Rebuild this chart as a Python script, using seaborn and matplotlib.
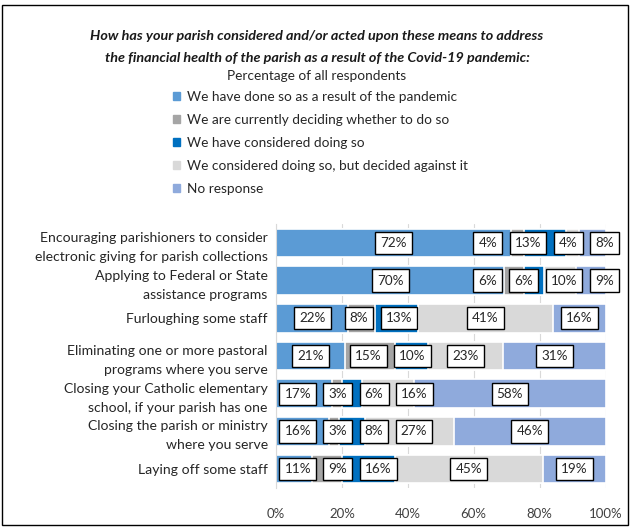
import numpy as np
import pandas as pd
import matplotlib
matplotlib.use('Agg')
import matplotlib.pyplot as plt
import matplotlib.patches as mpatches
import seaborn as sns

categories = [
    "Encouraging parishioners to consider\nelectronic giving for parish collections",
    "Applying to Federal or State\nassistance programs",
    "Furloughing some staff",
    "Eliminating one or more pastoral\nprograms where you serve",
    "Closing your Catholic elementary\nschool, if your parish has one",
    "Closing the parish or ministry\nwhere you serve",
    "Laying off some staff",
]
series_names = [
    "We have done so as a result of the pandemic",
    "We are currently deciding whether to do so",
    "We have considered doing so",
    "We considered doing so, but decided against it",
    "No response",
]
done       = [72, 70, 22, 21, 17, 16, 11]
deciding   = [4, 6, 8, 15, 3, 3, 9]
considered = [13, 6, 13, 10, 6, 8, 16]
against    = [4, 10, 41, 23, 16, 27, 45]
no_resp    = [8, 9, 16, 31, 58, 46, 19]
x_ticks    = [0, 20, 40, 60, 80, 100]

colors = ["#5B9BD5", "#A5A5A5", "#0070C0", "#D9D9D9", "#8FAADC"]
FONT = ["Lato", "DejaVu Sans"]

sns.set_theme(style="white")
plt.rcParams['font.family'] = FONT

vals = np.array([done, deciding, considered, against, no_resp], dtype=float)
# 100% stacked: shares of each row
shares = vals / vals.sum(axis=0) * 100
cum = np.cumsum(shares, axis=0)

W, H = 634, 530
fig = plt.figure(figsize=(W / 100, H / 100), dpi=100)
ax = fig.add_axes([276 / W, 1 - 488 / H, (605.5 - 276) / W, (488 - 224) / H])

# draw cumulative bars back to front so each series shows as a segment
for k in reversed(range(len(series_names))):
    df = pd.DataFrame({"cat": categories, "val": cum[k]})
    sns.barplot(data=df, x="val", y="cat", orient="h", color=colors[k],
                saturation=1, width=0.76, edgecolor="white", linewidth=1.2, ax=ax)

ax.set_xlim(0, 100)
ax.set_xticks(x_ticks)
ax.set_xticklabels([f"{t}%" for t in x_ticks])
ax.set_xlabel("")
ax.set_ylabel("")
ax.grid(axis="x", color="#D9D9D9", linewidth=0.8)
ax.grid(axis="y", visible=False)
ax.set_axisbelow(True)
for s in ["top", "right", "bottom"]:
    ax.spines[s].set_visible(False)
ax.spines["left"].set_color("#D9D9D9")
ax.spines["left"].set_linewidth(0.8)

ax.tick_params(axis="x", length=4.5, color="#D9D9D9", width=0.8, labelsize=9.5,
               labelcolor="#404040", pad=10)
ax.tick_params(axis="y", which="major", length=0, labelsize=10.1,
               labelcolor="#262626", pad=6)
ax.set_yticks([i + 0.5 for i in range(len(categories))], minor=True)
ax.tick_params(axis="y", which="minor", length=184, color="#D9D9D9", width=0.8)
for lbl in ax.get_yticklabels():
    lbl.set_linespacing(1.7)

# value labels in white boxes
texts = []
for i in range(len(categories)):
    row = []
    for k in range(len(series_names)):
        c = cum[k, i] - shares[k, i] / 2
        t = ax.text(c, i, f"{int(vals[k, i])}%", ha="center", va="center",
                    fontsize=9.7, color="#262626",
                    bbox=dict(boxstyle="square,pad=0.38", fc="white",
                              ec="black", lw=1))
        row.append(t)
    texts.append(row)

fig.canvas.draw()
r = fig.canvas.get_renderer()
inv = ax.transData.inverted()


def spread(cs, ws, gap=2.2, lo=1.0, hi=104.0):
    xs = list(cs)
    for _ in range(300):
        moved = False
        for j in range(len(xs) - 1):
            need = (ws[j] + ws[j + 1]) / 2 + gap
            d = xs[j + 1] - xs[j]
            if d < need - 1e-6:
                sh = (need - d) / 2
                xs[j] -= sh
                xs[j + 1] += sh
                moved = True
        xs[0] = max(xs[0], lo + ws[0] / 2)
        xs[-1] = min(xs[-1], hi - ws[-1] / 2)
        if not moved:
            break
    return xs


for i, row in enumerate(texts):
    ws = []
    for t in row:
        bb = t.get_bbox_patch().get_window_extent(r)
        (x0, _), (x1, _) = inv.transform([[bb.x0, 0], [bb.x1, 0]])
        ws.append(x1 - x0)
    cs = [t.get_position()[0] for t in row]
    new = spread(cs, ws)
    for t, x in zip(row, new):
        t.set_x(x)

# title and legend
fig.text(0.5, 1 - 36 / H, "How has your parish considered and/or acted upon these means to address",
         ha="center", va="center", fontsize=10.4, fontweight="bold", style="italic", color="#1a1a1a")
fig.text(0.5, 1 - 58 / H, "the financial health of the parish as a result of the Covid-19 pandemic:",
         ha="center", va="center", fontsize=10.4, fontweight="bold", style="italic", color="#1a1a1a")
fig.text(0.5, 1 - 76 / H, "Percentage of all respondents", ha="center", va="center",
         fontsize=9.8, color="#262626")

handles = [mpatches.Patch(color=c, label=s) for c, s in zip(colors, series_names)]
fig.legend(handles=handles, loc="upper left", bbox_to_anchor=(173 / W, 1 - 91 / H),
           frameon=False, fontsize=9.8, handlelength=0.55, handleheight=0.55,
           handletextpad=0.45, labelspacing=0.8, borderpad=0, borderaxespad=0,
           labelcolor="#262626")

fig.patches.append(mpatches.Rectangle((2 / W, 5 / H), 626 / W, 520 / H,
                                      transform=fig.transFigure, fill=False,
                                      ec="black", lw=1))

plt.savefig("out.png", dpi=100)
plt.close()
